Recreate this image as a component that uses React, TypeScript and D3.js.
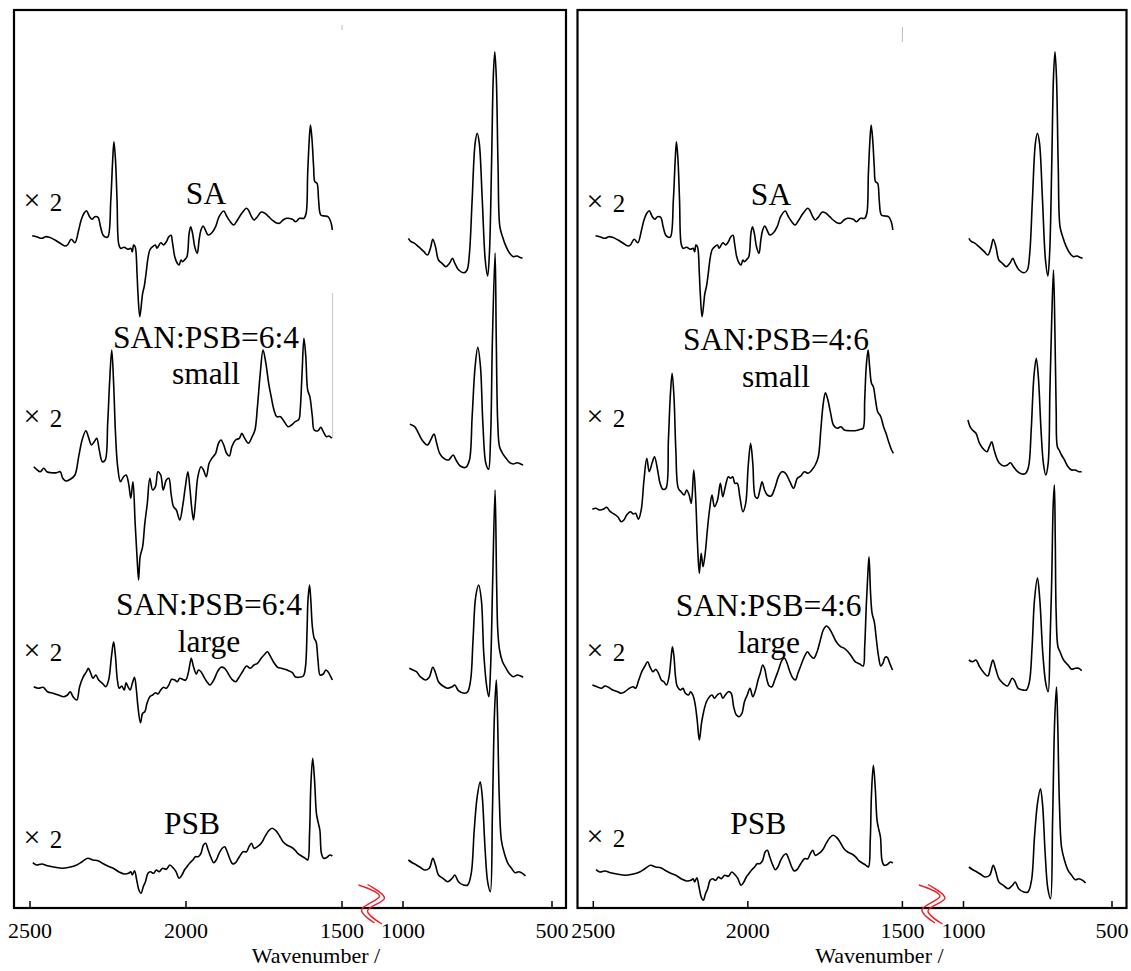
import React from 'react';
import * as d3 from 'd3';

type Pt = [number, number];

// Wavenumber (cm-1) and relative intensity for each trace, split into the
// high-wavenumber window (2500-1530) and the fingerprint window (1000-590).
const SA_HIGH: Pt[] = [[2493,4.3],[2479,3.3],[2462,1.7],[2450,3.3],[2438,2.7],[2420,0],[2403,-3.3],[2388,-6],[2380,-5],[2368,0.7],[2356,-2.7],[2344,10],[2336,20],[2327,26.7],[2319,29.3],[2309,23.3],[2301,20.7],[2292,23.3],[2282,22.7],[2274,13.3],[2266,5],[2257,2.7],[2250,3.3],[2241,40],[2235,80],[2231,98.3],[2226,80],[2221,40],[2216,-3.3],[2210,-8.3],[2198,-7.3],[2186,-9.3],[2177,-8.3],[2172,-11.7],[2168,-5],[2163,-6.7],[2157,-33.3],[2154,-53.3],[2148,-76.7],[2139,-53.3],[2134,-46.7],[2128,-33.3],[2122,-18.3],[2116,-10],[2107,-6.7],[2098,-5],[2093,-8.3],[2081,-2.7],[2072,-5],[2063,-1.7],[2055,3.3],[2048,4.7],[2043,-3.3],[2036,-16.7],[2028,-23.3],[2022,-25],[2016,-20],[2011,-21.7],[2005,-20],[1997,-16.7],[1990,6.7],[1985,13.3],[1979,6.7],[1972,-6.7],[1964,-13.3],[1958,0],[1952,10],[1945,14],[1938,10],[1929,5],[1917,7.3],[1905,13.3],[1894,23.3],[1879,29],[1870,24],[1858,18.3],[1847,15],[1835,20],[1821,26.7],[1806,31.7],[1800,30],[1790,23.3],[1782,20],[1771,23.3],[1759,28],[1747,26.7],[1735,23.3],[1724,20],[1712,17.3],[1700,16.7],[1689,20],[1677,21.7],[1659,20.7],[1648,18.3],[1636,21.7],[1622,21.7],[1615,26.7],[1610,66.7],[1605,100],[1601,115],[1596,100],[1591,73.3],[1587,58.3],[1580,56.7],[1575,40],[1568,25],[1556,24],[1545,23.3],[1536,18.3],[1531,10]];
const SA_LOW: Pt[] = [[982,1.7],[973,-1.7],[961,-3.3],[948,-6.7],[930,-11.7],[918,-15],[908,-8.3],[900,0.7],[891,-6.7],[881,-20],[869,-23.3],[856,-26.7],[844,-23.3],[834,-18.3],[826,-23.3],[813,-30],[795,-32.7],[785,-30],[777,-13.3],[768,40],[758,96.7],[751,106.7],[744,96.7],[734,40],[724,-20],[716,-36],[710,-13.3],[703,73.3],[697,163.3],[692,188.3],[687,163.3],[681,73.3],[675,13.3],[666,3.3],[654,-6.7],[642,-13.3],[630,-16.7],[617,-16],[609,-17.3],[599,-18.3]];

const S64_HIGH: Pt[] = [[2488,3.3],[2479,0.7],[2467,-1.7],[2456,1.7],[2446,-1.7],[2432,-2.7],[2415,-2.7],[2403,-1.7],[2395,-8.3],[2385,-11],[2371,-9.3],[2356,-5],[2344,13.3],[2333,30],[2321,39.3],[2313,33.3],[2303,25],[2294,28.3],[2286,31.7],[2278,20],[2268,8.3],[2259,10],[2251,46.7],[2245,86.7],[2238,120],[2232,86.7],[2226,36.7],[2219,3.3],[2210,-11.7],[2200,-6.7],[2192,-5],[2184,-13.3],[2177,-28.3],[2170,-11.7],[2163,-53.3],[2157,-86.7],[2152,-110],[2147,-86.7],[2139,-76.7],[2132,-53.3],[2124,-33.3],[2116,-8.3],[2107,-20],[2098,-16.7],[2090,-1.7],[2081,-5],[2073,-20],[2063,-10],[2055,-8.3],[2048,-23.3],[2040,-36.7],[2031,-40],[2020,-50],[2011,-36.7],[2002,-16.7],[1994,-1.7],[1987,-20],[1981,-40],[1976,-50],[1970,-33.3],[1962,-6.7],[1952,3.3],[1944,0],[1935,-6.7],[1926,6.7],[1917,11.7],[1905,16.7],[1896,26.7],[1888,30],[1879,25],[1870,16.7],[1861,14],[1853,23.3],[1841,30],[1829,31.7],[1821,36.7],[1812,31.7],[1800,26.7],[1788,33.3],[1779,40],[1771,63.3],[1762,96.7],[1753,120],[1744,106.7],[1735,86.7],[1727,73.3],[1718,60],[1709,53.3],[1697,53.3],[1685,48.3],[1673,43.3],[1662,45],[1650,48.3],[1638,50.7],[1634,60],[1628,96.7],[1622,131.7],[1616,113.3],[1610,80],[1603,73.3],[1595,53.3],[1589,40],[1577,39.3],[1568,42.7],[1560,38.3],[1550,33.3],[1542,34],[1533,31.7]];
const S64_LOW: Pt[] = [[977,45.7],[961,43.3],[948,36.7],[936,30],[918,25],[906,30.7],[896,36],[887,26.7],[877,16.7],[863,11.7],[847,10],[832,15],[822,10],[808,4],[789,2.7],[777,10],[768,53.3],[758,103.3],[749,122.7],[740,103.3],[732,46.7],[722,6.7],[713,0.7],[706,33.3],[700,130],[691,217],[687,130],[682,46.7],[676,23.3],[666,16.7],[654,11.7],[642,7.3],[630,6],[617,7.3],[605,6],[597,5]];
// faint clipping edge left at the end of the 6:4 small window
const S64_EDGE: Pt[] = [[1530, 31.7], [1530, 177]];

const L64_HIGH: Pt[] = [[2488,3.3],[2473,1.7],[2458,2.7],[2444,-1.7],[2426,-3.3],[2409,-5],[2391,-6.7],[2380,-5],[2371,-1.7],[2362,-6.7],[2350,-10],[2341,3.3],[2329,13.3],[2319,18.3],[2313,21.7],[2306,17.3],[2298,11.7],[2289,15],[2280,10],[2268,6.7],[2257,3.3],[2248,10],[2239,33.3],[2232,48.3],[2226,33.3],[2220,10],[2214,1.7],[2206,4],[2198,0],[2192,7.3],[2186,3.3],[2179,0],[2172,6.7],[2165,12.7],[2159,0],[2154,-16.7],[2146,-32.7],[2139,-23.3],[2132,-21.7],[2125,-13.3],[2116,-6.7],[2107,-5],[2098,-2.7],[2090,-4],[2081,0],[2072,2.7],[2063,1.7],[2055,5],[2046,10.7],[2036,10],[2028,8.3],[2020,11.7],[2011,10.7],[2001,10],[1993,16.7],[1987,26.7],[1983,31.7],[1976,23.3],[1967,16],[1960,20],[1952,18.3],[1943,13.3],[1933,8.3],[1923,5],[1911,10],[1899,18.3],[1888,22.7],[1876,21.7],[1864,16],[1853,10.7],[1841,8.3],[1829,13.3],[1817,19.3],[1806,24],[1794,21.7],[1782,25],[1771,26.7],[1759,31.7],[1747,36],[1739,38.3],[1730,34],[1718,27.3],[1706,22.7],[1694,21.7],[1683,20.7],[1671,19.3],[1659,17.3],[1650,13.3],[1638,12.7],[1624,14],[1617,23.3],[1612,60],[1609,90],[1604,105],[1600,90],[1595,63.3],[1589,51.7],[1583,48.3],[1577,30],[1570,15],[1560,16],[1552,20],[1545,18.3],[1536,13.3],[1531,10]];
const L64_LOW: Pt[] = [[979,21.7],[967,20],[955,18.3],[942,13.3],[924,10],[912,12.7],[900,22.7],[891,17.3],[881,8.3],[866,4],[850,1.7],[835,3.3],[826,5],[814,-0.7],[795,-3.3],[783,-1.7],[773,10],[765,50],[756,93.3],[746,105],[737,90],[729,36.7],[719,3.3],[712,-6.7],[706,23.3],[699,110],[691,200],[686,110],[682,60],[676,40],[666,28.3],[654,21.7],[642,16],[630,13.3],[617,15],[605,14],[597,12.7]];

const S46_HIGH: Pt[] = [[2503,0.7],[2492,1.7],[2480,0],[2468,0.7],[2457,2.7],[2445,-1.7],[2433,-4],[2421,-6.7],[2410,-11.7],[2401,-10],[2392,-5],[2380,-1.7],[2371,-4],[2363,-3.3],[2354,-9.3],[2345,0],[2336,30],[2327,51.7],[2319,38.3],[2310,46.7],[2302,53.3],[2292,40],[2284,26.7],[2275,20.7],[2265,21.7],[2257,70],[2251,113.3],[2245,136.7],[2239,113.3],[2233,60],[2225,21.7],[2216,18.3],[2206,15],[2198,20],[2190,15],[2183,6.7],[2175,40],[2169,13.3],[2163,-33.3],[2157,-63.3],[2151,-43.3],[2145,-56.7],[2138,-43.3],[2131,-20],[2124,0],[2116,15],[2108,3.3],[2098,10],[2089,26.7],[2081,13.3],[2073,23.3],[2063,33.3],[2056,31.7],[2049,33.3],[2042,26.7],[2034,26.7],[2026,13.3],[2016,-1.7],[2007,6.7],[1999,43.3],[1991,66.7],[1984,46.7],[1976,13.3],[1969,11.7],[1961,20],[1954,28.3],[1946,20],[1937,15],[1925,14],[1913,21.7],[1901,33.3],[1890,38.3],[1878,36.7],[1864,28.3],[1852,21.7],[1840,31.7],[1829,34],[1817,38.3],[1805,36.7],[1793,40],[1782,45],[1772,53.3],[1764,80],[1756,106.7],[1749,117.3],[1741,110],[1732,96.7],[1723,85],[1711,81.7],[1699,83.3],[1688,80],[1670,79.3],[1653,79.3],[1635,80.7],[1627,81.7],[1622,110],[1617,143.3],[1611,160],[1606,143.3],[1600,126.7],[1594,123.3],[1587,110],[1580,98.3],[1570,93.3],[1561,83.3],[1553,76.7],[1543,66.7],[1535,60],[1529,56.7]];
const S46_LOW: Pt[] = [[985,90],[978,83.3],[970,80],[958,76.7],[946,66.7],[930,60],[921,58.3],[913,63.3],[905,68.3],[897,60],[888,51.7],[879,46.7],[864,44],[852,45],[842,47.3],[832,43.3],[818,38.3],[803,36],[791,36.7],[781,43.3],[772,80],[763,133.3],[755,151.7],[748,133.3],[739,80],[731,46.7],[723,35],[715,46.7],[709,120],[703,190],[697,240],[692,175],[688,100],[684,63.3],[678,60],[670,55],[660,50],[648,43.3],[636,40],[624,40],[612,38.3],[602,38.3]];

const L46_HIGH: Pt[] = [[2503,5],[2488,3.3],[2474,1.7],[2462,4],[2451,2.7],[2437,0],[2421,-1.7],[2410,-3.3],[2398,-1.7],[2383,1.7],[2371,3.3],[2363,1.7],[2353,10],[2343,18.3],[2333,24],[2324,28.3],[2316,22.7],[2307,18.3],[2298,20.7],[2289,16.7],[2280,10],[2272,8.3],[2263,5],[2255,13.3],[2249,30],[2244,43.3],[2239,33.3],[2234,13.3],[2228,3.3],[2218,0],[2210,1.7],[2202,-3.3],[2192,-5],[2185,-1.7],[2178,-5],[2171,-13.3],[2164,-30],[2157,-50],[2150,-33.3],[2143,-21.7],[2134,-11.7],[2124,-6.7],[2116,-5],[2108,-8.3],[2099,-5],[2089,-3.3],[2081,-8.3],[2073,-5],[2063,-1.7],[2054,-3.3],[2046,-16.7],[2037,-25],[2028,-26.7],[2019,-23.3],[2011,-11.7],[2002,-5],[1993,1.7],[1984,-6.7],[1975,0],[1967,10],[1960,16.7],[1952,25],[1946,21.7],[1938,10],[1931,4],[1922,3.3],[1913,10],[1901,20],[1889,30],[1881,31.7],[1873,26.7],[1864,18.3],[1854,11.7],[1846,10],[1838,16.7],[1829,24],[1817,33.3],[1807,38.3],[1799,35],[1787,31.7],[1776,38.3],[1764,51.7],[1756,60],[1746,64],[1737,61.7],[1725,55],[1714,48.3],[1700,43.3],[1688,41.7],[1676,38.3],[1664,33.3],[1653,28.3],[1638,26],[1627,24],[1622,43.3],[1617,83.3],[1612,115],[1608,133.3],[1603,96.7],[1598,76.7],[1591,68.3],[1584,50],[1577,33.3],[1570,24],[1563,26.7],[1556,32.7],[1549,32.7],[1541,26.7],[1532,20]];
const L46_LOW: Pt[] = [[982,30],[970,28.3],[958,30],[946,23.3],[930,16.7],[918,14],[909,22.7],[901,30],[891,20.7],[881,11.7],[867,6.7],[852,4],[836,11.7],[828,9.3],[816,1.7],[800,0],[788,0],[778,8.3],[769,43.3],[761,90],[751,112],[743,90],[733,36.7],[723,6.7],[715,-1.7],[709,43.3],[703,110],[698,185],[694,205],[691,150],[688,76.7],[682,43.3],[675,38.3],[663,30],[648,25],[636,20.7],[624,21.7],[612,21.7],[602,19.3]];

const PSB_HIGH: Pt[] = [[2491,7.3],[2479,5],[2462,6],[2444,4.3],[2420,2.7],[2397,1.7],[2374,2.7],[2350,5],[2333,8.3],[2315,11.7],[2298,10],[2282,9.3],[2268,6.7],[2251,4],[2233,1.7],[2216,-1.7],[2198,-4],[2184,-3.3],[2177,-1.7],[2172,-5],[2165,-0.7],[2158,-10],[2151,-20],[2144,-23.3],[2137,-16.7],[2130,-11.7],[2122,-3.3],[2114,-1.7],[2104,-3.3],[2095,0],[2086,-1.7],[2075,1.7],[2063,0.7],[2052,5],[2040,1.7],[2032,-1.7],[2022,-8.3],[2013,-5],[2005,0],[1997,3.3],[1987,7.3],[1978,10],[1970,13.3],[1961,13.3],[1952,16.7],[1944,25],[1937,26.7],[1929,20],[1919,11.7],[1911,7.3],[1903,10],[1894,16.7],[1884,21.7],[1876,23.3],[1868,18.3],[1858,10],[1850,6],[1841,7.3],[1829,13.3],[1817,18.3],[1806,18.3],[1798,23.3],[1790,26.7],[1782,21.7],[1771,23.3],[1759,26.7],[1747,33.3],[1735,39.3],[1724,41.7],[1712,39.3],[1700,34],[1689,28.3],[1677,25],[1665,23.3],[1653,20.7],[1642,16.7],[1630,14],[1618,11.7],[1610,10],[1604,36.7],[1600,83.3],[1594,111.7],[1588,90],[1582,56.7],[1577,48.3],[1571,40],[1566,16.7],[1559,11.7],[1548,12.7],[1539,15],[1531,14]];
const PSB_LOW: Pt[] = [[982,10],[969,7.3],[955,5],[942,2.7],[928,0],[912,1.7],[900,11.7],[891,5],[881,-5],[866,-8.3],[850,-11.7],[835,-8.3],[826,-5],[814,-11.7],[797,-15],[783,-15],[771,-3.3],[761,40],[751,73.3],[741,88.3],[734,73.3],[725,23.3],[716,-11.7],[707,-21.7],[700,56.7],[693,156.7],[687,190],[683,156.7],[677,73.3],[670,30],[660,16.7],[648,6.7],[636,1.7],[624,-2.7],[611,-1.7],[599,-3.3],[589,-6]];

// vertical stacking offsets (same intensity units), top trace first
const LEFT_OFFSETS = [668, 438, 218, 38];
const RIGHT_OFFSETS = [668, 398, 218, 31];

const LEFT_NAMES = [['SA'], ['SAN:PSB=6:4', 'small'], ['SAN:PSB=6:4', 'large'], ['PSB']];
const RIGHT_NAMES = [['SA'], ['SAN:PSB=4:6', 'small'], ['SAN:PSB=4:6', 'large'], ['PSB']];
const SCALE_SIGN = '×';
const SCALE_FACTOR = '2';

const HIGH_TICKS = [2500, 2000, 1500];
const LOW_TICKS = [1000, 500];
const X_TITLE = 'Wavenumber /';

const W = 1131;
const H = 971;
const AXIS_Y = 908;
const FONT = "'Liberation Serif', 'Times New Roman', 'DejaVu Serif', serif";

const yScale = d3.scaleLinear().domain([0, 900]).range([AXIS_Y, 8]);

// break marker, relative to the middle of the gap on the axis
const BREAK_A: Pt[] = [[-14, -23], [7, -12], [-11, 2], [2, 15]];
const BREAK_B: Pt[] = [[-5, -23.5], [12, -10], [-5, 3], [9.5, 16]];

interface PanelDef {
  box: [number, number];
  highRange: [number, number];
  lowRange: [number, number];
  traces: { high: Pt[]; low: Pt[]; offset: number }[];
  names: string[][];
  nameAt: { x: number; y: number[] }[];
  noteX: number;
  noteY: number[];
  titleX: number;
  edge?: { pts: Pt[]; offset: number };
  topMark: [number, number, number];
}

const PANELS: PanelDef[] = [
  {
    box: [14, 566],
    highRange: [30, 342],
    lowRange: [403, 552],
    traces: [
      { high: SA_HIGH, low: SA_LOW, offset: LEFT_OFFSETS[0] },
      { high: S64_HIGH, low: S64_LOW, offset: LEFT_OFFSETS[1] },
      { high: L64_HIGH, low: L64_LOW, offset: LEFT_OFFSETS[2] },
      { high: PSB_HIGH, low: PSB_LOW, offset: LEFT_OFFSETS[3] },
    ],
    names: LEFT_NAMES,
    nameAt: [
      { x: 206, y: [204] },
      { x: 206, y: [347.5, 384] },
      { x: 209, y: [615, 651.5] },
      { x: 192, y: [834] },
    ],
    noteX: 32,
    noteY: [210.7, 427.3, 661, 848],
    titleX: 316,
    edge: { pts: S64_EDGE, offset: LEFT_OFFSETS[1] },
    topMark: [1500, 878, 883],
  },
  {
    box: [577.5, 1126.5],
    highRange: [593.3, 902.4],
    lowRange: [963.5, 1112],
    traces: [
      { high: SA_HIGH, low: SA_LOW, offset: RIGHT_OFFSETS[0] },
      { high: S46_HIGH, low: S46_LOW, offset: RIGHT_OFFSETS[1] },
      { high: L46_HIGH, low: L46_LOW, offset: RIGHT_OFFSETS[2] },
      { high: PSB_HIGH, low: PSB_LOW, offset: RIGHT_OFFSETS[3] },
    ],
    names: RIGHT_NAMES,
    nameAt: [
      { x: 771, y: [205] },
      { x: 776, y: [350, 386.5] },
      { x: 768.7, y: [616, 652.5] },
      { x: 758.2, y: [834] },
    ],
    noteX: 595,
    noteY: [211.5, 427, 661, 847],
    titleX: 879.4,
    topMark: [1500, 866, 881],
  },
];

function Panel({ p }: { p: PanelDef }) {
  const xHigh = d3.scaleLinear().domain([2500, 1500]).range(p.highRange);
  const xLow = d3.scaleLinear().domain([1000, 500]).range(p.lowRange);
  const lineFor = (xs: d3.ScaleLinear<number, number>, offset: number) =>
    d3
      .line<Pt>()
      .x((d) => xs(d[0]))
      .y((d) => yScale(d[1] + offset))
      .curve(d3.curveCatmullRom.alpha(0.5));

  const gapMid = (xHigh(1500) + xLow(1000)) / 2;
  const brk = d3
    .line<Pt>()
    .x((d) => gapMid + d[0])
    .y((d) => AXIS_Y + d[1])
    .curve(d3.curveCatmullRom.alpha(0.5));

  const [bx0, bx1] = p.box;
  return (
    <g>
      <rect x={bx0} y={10} width={bx1 - bx0} height={AXIS_Y - 10} fill="none" stroke="#000" strokeWidth={2.2} />
      {/* faint scan marks */}
      <line
        x1={xHigh(p.topMark[0])}
        x2={xHigh(p.topMark[0])}
        y1={yScale(p.topMark[1])}
        y2={yScale(p.topMark[2])}
        stroke="#bbb"
        strokeWidth={1}
      />
      {p.edge && (
        <path
          d={lineFor(xHigh, p.edge.offset).curve(d3.curveLinear)(p.edge.pts) || ''}
          stroke="#c4c4c4"
          strokeWidth={1}
          fill="none"
        />
      )}
      {/* ticks */}
      {HIGH_TICKS.map((t) => (
        <g key={'h' + t}>
          <line x1={xHigh(t)} x2={xHigh(t)} y1={AXIS_Y} y2={AXIS_Y - 7} stroke="#000" strokeWidth={1.5} />
          <text x={xHigh(t)} y={938} textAnchor="middle" fontSize={22}>{t}</text>
        </g>
      ))}
      {LOW_TICKS.map((t) => (
        <g key={'l' + t}>
          <line x1={xLow(t)} x2={xLow(t)} y1={AXIS_Y} y2={AXIS_Y - 7} stroke="#000" strokeWidth={1.5} />
          <text x={xLow(t)} y={938} textAnchor="middle" fontSize={22}>{t}</text>
        </g>
      ))}
      <text x={p.titleX} y={963} textAnchor="middle" fontSize={22}>{X_TITLE}</text>
      {/* axis break */}
      <path d={brk(BREAK_A) || ''} stroke="#e8202a" strokeWidth={1.4} fill="none" />
      <path d={brk(BREAK_B) || ''} stroke="#e8202a" strokeWidth={1.4} fill="none" />
      {/* spectra */}
      {p.traces.map((t, i) => (
        <g key={i}>
          <path d={lineFor(xHigh, t.offset)(t.high) || ''} fill="none" stroke="#000" strokeWidth={1.6} strokeLinejoin="round" />
          <path d={lineFor(xLow, t.offset)(t.low) || ''} fill="none" stroke="#000" strokeWidth={1.6} strokeLinejoin="round" />
        </g>
      ))}
      {/* trace names */}
      {p.names.map((lines, i) =>
        lines.map((s, j) => (
          <text key={i + '-' + j} x={p.nameAt[i].x} y={p.nameAt[i].y[j]} textAnchor="middle" fontSize={31.5}>
            {s}
          </text>
        ))
      )}
      {/* scale factor notes */}
      {p.noteY.map((y, i) => (
        <g key={'n' + i}>
          <text x={p.noteX} y={y - 1} textAnchor="middle" fontSize={30}>{SCALE_SIGN}</text>
          <text x={p.noteX + 24} y={y} textAnchor="middle" fontSize={25}>{SCALE_FACTOR}</text>
        </g>
      ))}
    </g>
  );
}

export default function App() {
  return (
    <svg
      width={W}
      height={H}
      viewBox={`0 0 ${W} ${H}`}
      style={{ position: 'absolute', left: 0, top: 0, background: '#fff', fontFamily: FONT }}
    >
      <rect width={W} height={H} fill="#fff" />
      {PANELS.map((p, i) => (
        <Panel key={i} p={p} />
      ))}
    </svg>
  );
}
